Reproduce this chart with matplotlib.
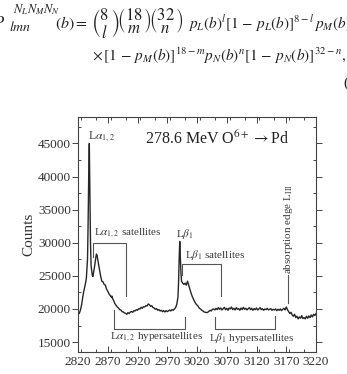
import matplotlib
matplotlib.use("Agg")
import matplotlib.pyplot as plt
from matplotlib.ticker import MultipleLocator

plt.rcParams['font.family'] = ['Liberation Serif', 'DejaVu Serif']
plt.rcParams['mathtext.fontset'] = 'stix'

# ---- data ----
energy = [2820, 2822, 2824, 2826, 2828, 2830, 2832, 2834, 2836, 2837, 2838, 2839, 2840, 2841, 2842,
          2844, 2845, 2846, 2848, 2850, 2851, 2852, 2854, 2856, 2858, 2860, 2862, 2864, 2866, 2868,
          2870, 2872, 2874, 2876, 2877, 2878, 2880, 2882, 2884, 2886, 2888, 2890, 2892, 2894, 2896,
          2898, 2900, 2902, 2904, 2906, 2908, 2910, 2912, 2914, 2916, 2918, 2920, 2922, 2924, 2926,
          2928, 2930, 2932, 2934, 2936, 2938, 2940, 2942, 2944, 2946, 2948, 2950, 2952, 2954, 2956,
          2958, 2960, 2962, 2964, 2966, 2968, 2970, 2972, 2974, 2976, 2978, 2980, 2982, 2984, 2986,
          2988, 2989, 2990, 2991, 2992, 2993, 2994, 2996, 2998, 3000, 3002, 3004, 3006, 3008, 3010,
          3012, 3014, 3016, 3018, 3020, 3022, 3024, 3026, 3028, 3030, 3032, 3034, 3036, 3038, 3040,
          3042, 3044, 3046, 3048, 3050, 3052, 3054, 3056, 3058, 3060, 3062, 3064, 3066, 3068, 3070,
          3072, 3074, 3076, 3078, 3080, 3082, 3084, 3086, 3088, 3090, 3092, 3094, 3096, 3098, 3100,
          3102, 3104, 3106, 3108, 3110, 3112, 3114, 3116, 3118, 3120, 3122, 3124, 3126, 3128, 3130,
          3132, 3134, 3136, 3138, 3140, 3142, 3144, 3146, 3148, 3150, 3152, 3154, 3156, 3158, 3160,
          3162, 3164, 3166, 3168, 3170, 3172, 3174, 3176, 3178, 3180, 3182, 3184, 3186, 3188, 3190,
          3192, 3194, 3196, 3198, 3200, 3202, 3204, 3206, 3208, 3210, 3212, 3214, 3216, 3218, 3220]
counts = [19500, 19300, 19800, 20600, 21800, 22800, 23600, 24600, 27500, 33000, 40000, 45000, 38000, 30000, 26500,
          25100, 24900, 25400, 26500, 27800, 28300, 28100, 27000, 26000, 25000, 24200, 24100, 23700, 23600, 23000,
          22700, 22300, 22050, 21800, 21950, 21600, 21250, 20800, 20550, 20300, 20150, 19900, 19850, 19600, 19550,
          19400, 19350, 19200, 19450, 19300, 19550, 19600, 19500, 19750, 19700, 19900, 19800, 20050, 20000, 20250,
          20100, 20350, 20300, 20500, 20450, 20750, 20650, 20400, 20500, 20200, 20150, 19950, 20050, 19800, 19900,
          19700, 19800, 19600, 19750, 19550, 19750, 19600, 19700, 19850, 19700, 19900, 19800, 20000, 20200, 20700,
          21800, 24000, 27500, 30200, 28000, 25500, 24200, 23900, 23700, 23900, 23600, 24200, 23600, 23000, 22400,
          21900, 21500, 21100, 20800, 20600, 20400, 20100, 20000, 19800, 19700, 19550, 19500, 19450, 19500, 19650,
          19800, 19700, 19950, 20000, 19850, 20100, 19900, 20200, 19950, 20150, 19850, 20050, 20250, 19900, 20100,
          19800, 20150, 20000, 20300, 19900, 20100, 19850, 20200, 19950, 20050, 19800, 20150, 19900, 20250, 19950,
          20100, 19850, 20050, 20200, 19900, 20100, 19800, 20050, 19900, 20150, 19850, 20000, 20200, 19900, 20050,
          19800, 20000, 19900, 20100, 19850, 19950, 20050, 19800, 19950, 19850, 20000, 19750, 19950, 19800, 20000,
          19750, 19950, 20100, 19850, 20300, 19900, 19600, 19300, 19500, 19100, 18900, 19200, 18700, 18900, 18500,
          18800, 18600, 19000, 18550, 18700, 18500, 18900, 18600, 18950, 18700, 19100, 18800, 19200, 19000, 19300]

xticks = [2820, 2870, 2920, 2970, 3020, 3070, 3120, 3170, 3220]
yticks = [15000, 20000, 25000, 30000, 35000, 40000, 45000]

W, H = 347, 374
fig = plt.figure(figsize=(W / 100, H / 100), dpi=100)

def fx(px):
    return px / W

def fy(py):
    return 1 - py / H

ax = fig.add_axes([fx(78), fy(352), fx(316) - fx(78), fy(117) - fy(352)])
ax.plot(energy, counts, color='#262626', lw=1.0)
ax.set_xlim(2820, 3220)
ax.set_ylim(13500, 49000)
ax.set_xticks(xticks)
ax.set_yticks(yticks)
ax.xaxis.set_minor_locator(MultipleLocator(25))
ax.yaxis.set_minor_locator(MultipleLocator(2500))
ax.tick_params(which='both', top=True, right=True, direction='in', colors='#444444',
               labelsize=9.5, labelcolor='#333333', width=0.7)
ax.tick_params(which='major', length=4)
ax.tick_params(which='minor', length=2.5)
ax.tick_params(axis='y', which='major', left=True, direction='out')
ax.tick_params(axis='x', which='major', pad=3)
ax.tick_params(axis='y', which='major', pad=1)
for s in ax.spines.values():
    s.set_color('#444444')
    s.set_linewidth(0.8)
ax.set_ylabel('Counts', fontsize=11, color='#333333', labelpad=2)

lc = '#555555'
lw = 0.8
# L alpha satellites bracket
ax.plot([2845, 2845, 2900, 2900], [27800, 30000, 30000, 21900], color=lc, lw=lw)
# L beta satellites bracket
ax.plot([2995, 2995, 3060, 3060], [25200, 26800, 26800, 21900], color=lc, lw=lw)
# L alpha hypersatellites bracket
ax.plot([2881, 2881, 3000, 3000], [19800, 17000, 17000, 18800], color=lc, lw=lw)
# L beta hypersatellites bracket
ax.plot([3051, 3051, 3151, 3151], [18800, 17000, 17000, 18900], color=lc, lw=lw)
# absorption edge marker
ax.plot([3173, 3173], [20900, 25100], color=lc, lw=lw)

tc = '#3a3a3a'
ax.text(2837, 46050, r'L$\alpha_{1,2}$', fontsize=8.5, color=tc, ha='left', va='center')
ax.text(3054, 45700, r'278.6 MeV O$^{6+}$$\rightarrow$Pd', fontsize=11.5, color='#222222',
        ha='center', va='center')
ax.text(2847, 31450, r'L$\alpha_{1,2}$ satellites', fontsize=8, color=tc, ha='left', va='center')
ax.text(2984, 31300, r'L$\beta_1$', fontsize=8, color=tc, ha='left', va='center')
ax.text(3000, 28130, r'L$\beta_1$ satellites', fontsize=8, color=tc, ha='left', va='center')
ax.text(2874, 15680, r'L$\alpha_{1,2}$ hypersatellites', fontsize=8, color=tc, ha='left', va='center')
ax.text(3040, 15680, r'L$\beta_1$ hypersatellites', fontsize=8, color=tc, ha='left', va='center')
ax.text(3173, 25300, r'absorption edge L$_{\rm III}$', fontsize=8, color=tc, rotation=90,
        ha='center', va='bottom')

# equation text above the chart (pieces placed in pixel positions)
ec = '#222222'

def ptext(px, py, s, size, va='baseline'):
    fig.text(fx(px), fy(py), s, fontsize=size, ha='left', va=va, color=ec)

ptext(-7, 28, r'$P$', 12)
ptext(9, 31, r'$lmn$', 10)
ptext(13, 13, r'$N_L N_M N_N$', 9)
ptext(55, 28, r'$(b) =$', 11.5)
ptext(91, 23, r'$\genfrac{(}{)}{0}{0}{8}{l}\!\genfrac{(}{)}{0}{0}{18}{m}\!\genfrac{(}{)}{0}{0}{32}{n}$',
      12, va='center')
ptext(188, 28, r'$p_L(b)^l[1\,-\,p_L(b)]^{8-l}\,p_M(b)^m$', 11)
fig.text(fx(92), fy(56), r'$\times\,[1\,-\,p_M(b)]^{18-m}p_N(b)^n[1\,-\,p_N(b)]^{32-n},$',
         fontsize=11, ha='left', va='center', color=ec)
fig.text(fx(343), fy(83), '(', fontsize=11, ha='left', va='center', color=ec)

fig.savefig('out.png', dpi=100)
